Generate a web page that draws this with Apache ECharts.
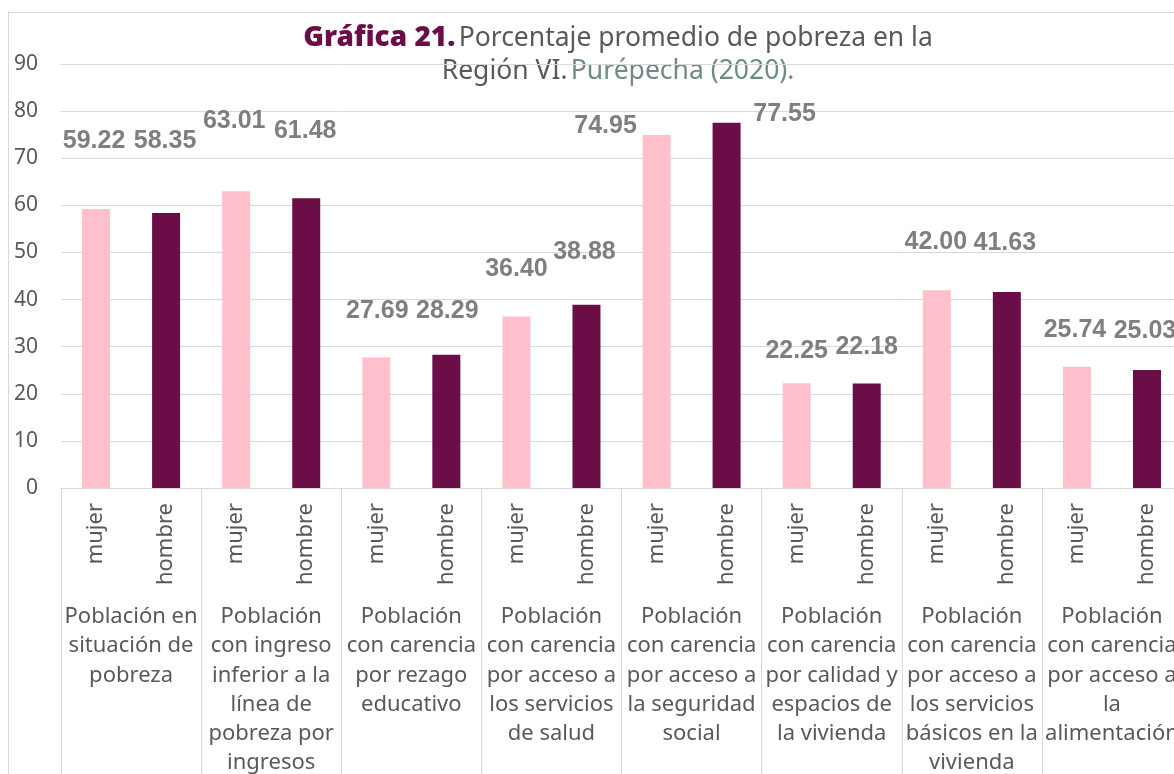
<!DOCTYPE html>
<html>
<head>
<meta charset="utf-8">
<script src="https://cdn.jsdelivr.net/npm/echarts@6/dist/echarts.min.js"></script>
<style>
html, body { margin: 0; padding: 0; background: #fff; overflow: hidden; }
#frame {
    position: absolute; left: 8px; top: 12px; width: 1300px; height: 900px;
    border-left: 1px solid #d9d9d9; border-top: 1px solid #d9d9d9;
}
#chart { position: absolute; left: 0; top: 0; width: 1174px; height: 774px; }
</style>
</head>
<body>
<div id="frame"></div>
<div id="chart"></div>
<script>
// grupos del eje (segundo nivel)
var groups = [
    'Población en\nsituación de\npobreza',
    'Población\ncon ingreso\ninferior a la\nlínea de\npobreza por\ningresos',
    'Población\ncon carencia\npor rezago\neducativo',
    'Población\ncon carencia\npor acceso a\nlos servicios\nde salud',
    'Población\ncon carencia\npor acceso a\nla seguridad\nsocial',
    'Población\ncon carencia\npor calidad y\nespacios de\nla vivienda',
    'Población\ncon carencia\npor acceso a\nlos servicios\nbásicos en la\nvivienda',
    'Población\ncon carencia\npor acceso a\nla\nalimentación'
];
var sexes = ['mujer', 'hombre'];
var mujer = [59.22, 63.01, 27.69, 36.40, 74.95, 22.25, 42.00, 25.74];
var hombre = [58.35, 61.48, 28.29, 38.88, 77.55, 22.18, 41.63, 25.03];
var yMin = 0, yMax = 90, yStep = 10;

var PINK = '#ffc0cb';
var WINE = '#6b0d46';
var GRAY = '#595959';
var LINE = '#d9d9d9';

// where excel left each data label: [dx, px above bar top], bar order
var labelShift = [
    [-2, 67], [-1, 71], [-2, 70], [-1, 67], [1, 46], [1, 43], [0, 47], [-2, 52],
    [-51, 8], [58, 8], [0, 32], [0, 36], [-1, 48], [-2, 48], [-2, 36], [-2, 38]
];

var cats = [];
var barData = [];
groups.forEach(function (g, i) {
    [mujer[i], hombre[i]].forEach(function (v, k) {
        var idx = i * 2 + k;
        var sh = labelShift[idx];
        cats.push(sexes[k]);
        barData.push({
            value: v,
            itemStyle: { color: k === 0 ? PINK : WINE },
            label: { offset: [sh[0], -(sh[1] - 12)] }
        });
    });
});

var chart = echarts.init(document.getElementById('chart'));
chart.setOption({
    animation: false,
    graphic: [{
        type: 'text',
        x: 618,
        y: 22,
        style: {
            text: '{b|Gráfica 21.} {n|Porcentaje promedio de pobreza en la}\n{n|Región VI.} {t|Purépecha (2020).}',
            align: 'center',
            verticalAlign: 'top',
            rich: {
                b: { fontFamily: 'Noto Sans', fontWeight: 900, fontSize: 28, fill: WINE, lineHeight: 33 },
                n: { fontFamily: 'Noto Sans', fontSize: 26.5, fill: GRAY, lineHeight: 33 },
                t: { fontFamily: 'Noto Sans', fontSize: 26.5, fill: '#6e8b88', lineHeight: 33 }
            }
        }
    }],
    grid: { left: 61, top: 64, width: 1121, height: 424, containLabel: false, outerBoundsMode: 'none' },
    xAxis: [{
        type: 'category',
        position: 'bottom',
        data: cats,
        axisLine: { lineStyle: { color: LINE, width: 1 } },
        axisTick: { show: false },
        axisLabel: {
            interval: 0, rotate: 90, margin: 15,
            fontFamily: 'Noto Sans', fontSize: 22, color: GRAY
        }
    }, {
        type: 'category',
        position: 'bottom',
        data: groups,
        axisLine: { show: false },
        axisTick: { show: true, interval: 0, length: 300, lineStyle: { color: LINE } },
        axisLabel: {
            interval: 0, margin: 114,
            fontFamily: 'Noto Sans', fontSize: 22, lineHeight: 29.3, color: GRAY, align: 'center'
        }
    }],
    yAxis: {
        type: 'value',
        min: yMin, max: yMax, interval: yStep,
        axisLine: { show: false },
        axisTick: { show: false },
        splitLine: { lineStyle: { color: LINE, width: 1 } },
        axisLabel: { margin: 23, fontFamily: 'Noto Sans', fontSize: 21, color: GRAY }
    },
    series: [{
        type: 'bar',
        xAxisIndex: 0,
        barWidth: 28,
        data: barData,
        label: {
            show: true,
            position: 'top',
            distance: 0,
            fontFamily: 'Liberation Sans',
            fontWeight: 'bold',
            fontSize: 25,
            color: '#7f7f7f',
            formatter: function (p) { return p.value.toFixed(2); }
        }
    }]
});
</script>
</body>
</html>
